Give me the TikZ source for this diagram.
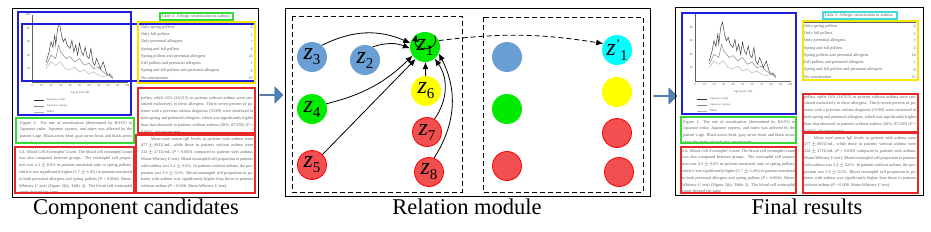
\documentclass[tikz,border=0pt]{standalone}
\usepackage{fontspec}
\setmainfont{Liberation Serif}
\usetikzlibrary{arrows.meta,shapes.arrows}

\definecolor{nblue}{RGB}{106,159,213}
\definecolor{ngreen}{RGB}{0,235,0}
\definecolor{nred}{RGB}{242,80,80}
\definecolor{nyellow}{RGB}{255,255,0}
\definecolor{ncyan}{RGB}{0,255,255}
\definecolor{bblue}{RGB}{30,30,220}
\definecolor{bgreen}{RGB}{50,220,50}
\definecolor{byellow}{RGB}{245,230,0}
\definecolor{bred}{RGB}{230,40,40}
\definecolor{bcyan}{RGB}{60,220,220}
\definecolor{arrowblue}{RGB}{79,129,189}
\definecolor{doctext}{RGB}{95,95,95}

\newcommand\zl[1]{\textit{z}\raisebox{-5pt}{\fontsize{15}{15}\selectfont #1}}

\tikzset{
  zn/.style={circle, minimum size=30pt, inner sep=0pt, font=\fontsize{24}{24}\selectfont},
  zblue/.style={zn, fill=nblue},
  zgreen/.style={zn, fill=ngreen},
  zred/.style={zn, fill=nred, draw=red, line width=0.8pt, minimum size=29pt},
  zyellow/.style={zn, fill=nyellow},
  zcyan/.style={zn, fill=ncyan},
  rel/.style={-{Latex[length=7pt,width=6pt]}, line width=0.8pt},
  panel/.style={draw=black, line width=1pt},
  dbox/.style={draw, dash pattern=on 5pt off 3pt, line width=0.8pt},
  hbox/.style={line width=1.4pt},
  para/.style={anchor=north west, inner sep=0pt, align=justify, text=doctext,
    font=\fontsize{4.2}{6.8}\selectfont},
  tabtxt/.style={inner sep=0pt, text=doctext, font=\fontsize{4.2}{5}\selectfont},
  tick/.style={inner sep=0pt, text=doctext, font=\fontsize{3}{3}\selectfont},
  caption/.style={font=\fontsize{22.5}{24}\selectfont, anchor=base},
  bigarrow/.style={single arrow, fill=arrowblue, draw=arrowblue!75!black, line width=0.5pt,
    minimum height=23pt, minimum width=16pt, single arrow head extend=3.5pt, inner sep=0pt}
}

\newcommand\docpage{%
  % table
  \node[tabtxt] at (184,8.5) {Table 3: Allergic sensitization in asthma.};
  \draw[doctext, line width=0.3pt] (129,15.5) -- (241,15.5);
  \draw[doctext, line width=0.3pt] (129,73) -- (241,73);
  \foreach \rowtxt/\rownum [count=\i] in {Only spring pollens/4, Only fall pollens/5,
      Only perennial allergens/7, Spring and fall pollens/4,
      Spring pollens and perennial allergens/14, Fall pollens and perennial allergens/1,
      Spring and fall pollens and perennial allergens/8, No sensitization/23}{
    \node[tabtxt, anchor=west] at (129,{12.3+7.2*\i}) {\rowtxt};
    \node[tabtxt, anchor=east] at (241,{12.3+7.2*\i}) {\rownum};
  }
  % chart
  \draw[doctext, line width=0.3pt] (20,7) -- (20,74) -- (116,74);
  \foreach \v/\yy in {100/7,80/20.4,60/33.8,40/47.2,20/60.6}{
    \node[tick, anchor=east] at (18,\yy) {\v};
  }
  \foreach \a in {0,10,...,100}{
    \node[tick] at ({20+0.95*\a},78) {\a};
  }
  \node[tick] at (68,85) {Age (years old)};
  \begin{scope}[shift={(20,74)}]
    \begin{scope}[x=0.95pt,y=0.67pt]
      \draw[black!80, line width=0.45pt] plot coordinates {(15,30) (18,45) (20,60) (22,52) (24,70) (25,55)
        (27,80) (29,88) (31,70) (33,60) (35,65) (37,55) (40,50) (42,62) (44,45) (46,55) (48,40)
        (50,58) (52,45) (54,40) (56,52) (58,38) (60,35) (62,50) (64,30) (66,25) (68,35) (70,28)
        (72,20) (75,30) (78,15) (80,10) (82,12) (85,5)};
      \draw[black!50, line width=0.45pt] plot coordinates {(15,25) (20,40) (25,35) (28,55) (30,45)
        (33,40) (36,35) (40,38) (45,30) (50,35) (55,25) (60,28) (65,20) (70,22) (75,15) (80,10) (85,8)};
      \draw[black!30, line width=0.45pt] plot coordinates {(15,20) (20,30) (25,25) (30,30) (35,20)
        (40,18) (45,22) (50,15) (55,18) (60,12) (65,15) (70,10) (75,8) (80,10) (85,5)};
    \end{scope}
  \end{scope}
  \draw[black!80, line width=0.4pt] (22,92) -- (32,92);
  \draw[black!50, line width=0.4pt] (22,98) -- (32,98);
  \draw[black!30, line width=0.4pt] (22,104) -- (32,104);
  \node[tick, anchor=west] at (35,92) {Japanese cedar};
  \node[tick, anchor=west] at (35,98) {Japanese cypress};
  \node[tick, anchor=west] at (35,104) {Mites};
  % paragraphs
  \node[para, text width=112pt] at (8,113) {Figure 1: The rate of sensitization (determined by RAST) to
    Japanese cedar, Japanese cypress, and mites was affected by the patient's age. Black arrow head,
    gray arrow head, and black arrow show the peaks of each rate, respectively.};
  \node[para, text width=113pt] at (7,142) {3.4. \textit{Blood Cell Eosinophil Count.} The blood cell
    eosinophil count was also compared between groups. The eosinophil cell proportion was
    4.3\,$\pm$\,8.6\% in patients sensitized only to spring pollens, while it was significantly higher
    (5.7\,$\pm$\,6.4\%) in patients sensitized to both perennial allergens and spring pollens
    (\textit{P} = 0.0046, Mann-Whitney \textit{U} test) (Figure 2(b), Table 2). The blood cell
    eosinophil count showed the same};
  \node[para, text width=112pt] at (129,88) {pollen, while 16\% (34/215) in patients without asthma
    were sensitized exclusively to these allergens. Thirty-seven percent of patients with a previous
    asthma diagnosis (33/89) were sensitized to both spring and perennial allergens, which was
    significantly higher than that observed in patients without asthma (28\%; 87/295)
    (\textit{P} = 0.0047, chi-square test).};
  \node[para, text width=112pt] at (129,129) {\hspace*{10pt}Mean total serum IgE levels in patients
    with asthma were 477\,$\pm$\,89\,IU/mL, while those in patients without asthma were
    224\,$\pm$\,27\,IU/mL (\textit{P} = 0.0001 compared to patients with asthma, Mann-Whitney
    \textit{U} test). Blood eosinophil cell proportion in patients with asthma was 5.4\,$\pm$\,8.6\%.
    In patients without asthma, the proportion was 3.9\,$\pm$\,0.2\%. Blood eosinophil cell
    proportion in patients with asthma was significantly higher than those in patients without
    asthma (\textit{P} = 0.008, Mann-Whitney \textit{U} test).};
}

\begin{document}
\begin{tikzpicture}[x=1pt,y=-1pt]
\useasboundingbox[fill=white] (0,0) rectangle (931,231);

% ---------- left panel: component candidates ----------
\begin{scope}[shift={(12,8)}]
  \docpage
  \draw[hbox, bblue] (6,4) rectangle (119,107);
  \draw[hbox, bblue] (10,16) rectangle (243,73);
  \draw[hbox, bgreen] (148,5) rectangle (221,12);
  \draw[hbox, byellow] (126,14) rectangle (243,75);
  \draw[hbox, bred] (126,80) rectangle (243,125);
  \draw[hbox, bred] (124,127) rectangle (243,185);
  \draw[hbox, bgreen] (4,110) rectangle (122,135);
  \draw[hbox, bred] (3,139) rectangle (122,185);
  \draw[panel] (0,0) rectangle (246,189);
\end{scope}
\node[caption] (capA) at (136,214) {Component candidates};

% ---------- block arrows ----------
\node[bigarrow] (arrA) at (271,95) {};
\node[bigarrow] (arrB) at (665,96) {};

% ---------- middle panel: relation module ----------
\draw[panel] (285,8) rectangle (650,196);
\draw[dbox] (292,16) rectangle (462,192);
\draw[dbox] (483,17) rectangle (643,192);

\node[zblue] (z3) at (312,57) {\zl{3}};
\node[zblue] (z2) at (365,60) {\zl{2}};
\node[zgreen] (z4) at (312,109) {\zl{4}};
\node[zred] (z5) at (312,165) {\zl{5}};
\node[zgreen] (z1) at (425,47) {\zl{1}};
\node[zyellow] (z6) at (426,91) {\zl{6}};
\node[zred] (z7) at (427,132) {\zl{7}};
\node[zred] (z8) at (429,172) {\zl{8}};

\node[zblue] (r3) at (507,57) {};
\node[zgreen] (r4) at (507,109) {};
\node[zred] (r5) at (507,166) {};
\node[zcyan] (z1p) at (617,50) {\textit{z}\raisebox{7pt}{\fontsize{13}{13}\selectfont '}\raisebox{-5pt}{\fontsize{15}{15}\selectfont 1}};
\node[zyellow] (r6) at (617,92) {};
\node[zred] (r7) at (617,133) {};
\node[zred] (r8) at (619,172) {};

\draw[rel] (z3.50) to[bend left=25] (z1.165);
\draw[rel] (z2.60) to[bend left=20] (z1.185);
\draw[rel] (z4.20) to[bend right=15] (z1.215);
\draw[rel] (z5.45) -- (z1.232);
\draw[rel] (z6) -- (z1);
\draw[rel] (z7.60) to[bend right=35] (z1.-50);
\draw[rel] (z8.70) to[bend right=30] (z1.-25);
\draw[rel] (z1.50) .. controls +(70:18) and +(100:18) .. (z1.125);
\draw[rel, dash pattern=on 5pt off 3pt] (z1.25) to[bend left=8] (z1p.155);

\node[caption] (capB) at (467,214) {Relation module};

% ---------- right panel: final results ----------
\begin{scope}[shift={(675,7)}]
  \docpage
  \draw[hbox, bblue] (7,6) rectangle (121,107);
  \draw[hbox, bcyan] (148,5) rectangle (222,12);
  \draw[hbox, byellow] (128,14) rectangle (243,73);
  \draw[hbox, bred] (128,87) rectangle (243,126);
  \draw[hbox, bred] (128,125) rectangle (243,186);
  \draw[hbox, bgreen] (6,110) rectangle (121,136);
  \draw[hbox, bred] (6,140) rectangle (121,186);
  \draw[panel] (0,0) rectangle (248,188);
\end{scope}
\node[caption] (capC) at (807,214) {Final results};
\end{tikzpicture}
\end{document}
